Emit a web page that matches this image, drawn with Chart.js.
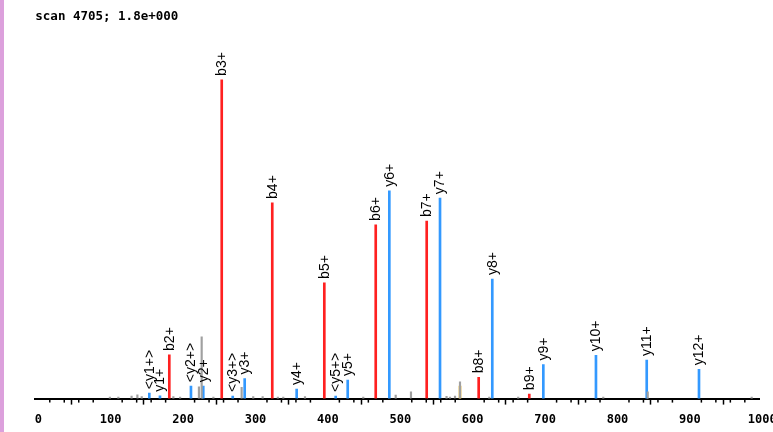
<!DOCTYPE html>
<html><head><meta charset="utf-8">
<script src="https://cdn.jsdelivr.net/npm/chart.js@4/dist/chart.umd.min.js"></script>
<style>
html,body{margin:0;padding:0;background:#fff;overflow:hidden;width:773px;height:432px;}
#wrap{position:relative;width:773px;height:432px;overflow:hidden;background:#fff;}
#strip{position:absolute;left:0;top:0;width:4px;height:432px;background:#dca0dc;}
canvas{position:absolute;left:0;top:0;}
</style></head><body>
<div id="wrap"><canvas id="c" width="790" height="432"></canvas><div id="strip"></div></div>
<script>
const titleText = 'scan 4705; 1.8e+000';

const bIonLabels = ['b2+', 'b3+', 'b4+', 'b5+', 'b6+', 'b7+', 'b8+', 'b9+'];
const bIonMz = [185.1, 257.5, 327.3, 399.2, 470.2, 540.6, 612.4, 682.3];
const bIonIntensity = [13.7, 100, 61.4, 36.3, 54.5, 55.7, 6.7, 1.4];

const yIonLabels = ['<y1+>', 'y1+', '<y2+>', 'y2+', '<y3+>', 'y3+', 'y4+', '<y5+>', 'y5+', 'y6+', 'y7+', 'y8+', 'y9+', 'y10+', 'y11+', 'y12+'];
const yIonMz = [157.5, 172.2, 215.0, 232.0, 272.7, 289.2, 361.0, 414.9, 431.5, 489.0, 559.0, 631.2, 701.7, 774.4, 844.5, 916.7];
const yIonIntensity = [1.7, 0.9, 3.9, 3.9, 0.8, 6.3, 3.0, 0.8, 5.8, 65.2, 62.9, 37.5, 10.7, 13.6, 12.1, 9.2];

const otherMz = [103, 114.7, 133, 141, 147, 190.7, 200, 226, 229.8, 246, 285, 301, 314, 335, 342.5, 372.5, 453, 497.8, 518.9, 568, 572.8, 579.7, 586.6, 627, 667, 784.5, 845.9, 989.5];
const otherIntensity = [0.5, 0.5, 0.8, 1.2, 0.6, 0.6, 0.5, 3.7, 19.4, 0.5, 3.5, 0.6, 0.6, 0.5, 0.5, 0.6, 0.5, 1.1, 2.1, 0.7, 0.5, 0.8, 5.3, 0.5, 0.5, 0.5, 2.1, 0.5];

const neutralLossMz = [586.6];
const neutralLossIntensity = [3.9];

const xTickStep = 100;
const xMinorStep = 20;

function pts(xs, ys) { return xs.map((x, i) => ({ x: x, y: ys[i] })); }

const minorTicks = {
  id: 'minorTicks',
  afterDraw(chart) {
    const s = chart.scales.x;
    const c = chart.ctx;
    c.save();
    c.strokeStyle = '#000';
    c.lineWidth = 1.5;
    for (let v = s.min; v <= s.max; v += xMinorStep) {
      if (v % xTickStep === 0) continue;
      const px = s.getPixelForValue(v);
      c.beginPath();
      c.moveTo(px, s.top);
      c.lineTo(px, s.top + 4);
      c.stroke();
    }
    c.restore();
  }
};

const ionLabels = {
  id: 'ionLabels',
  afterDatasetsDraw(chart) {
    const c = chart.ctx;
    c.save();
    c.fillStyle = '#000';
    c.font = '14px "Liberation Sans"';
    c.textAlign = 'left';
    c.textBaseline = 'middle';
    chart.data.datasets.forEach((ds, di) => {
      if (!ds.ionLabels) return;
      const meta = chart.getDatasetMeta(di);
      meta.data.forEach((el, i) => {
        c.save();
        c.translate(el.x + 0.5, el.y - 4);
        c.rotate(-Math.PI / 2);
        c.fillText(ds.ionLabels[i], 0, 0);
        c.restore();
      });
    });
    c.restore();
  }
};

new Chart(document.getElementById('c'), {
  type: 'bar',
  data: {
    datasets: [
      { data: pts(otherMz, otherIntensity), backgroundColor: '#a0a0a0', barThickness: 1.5 },
      { data: pts(neutralLossMz, neutralLossIntensity), backgroundColor: '#e0a812', barThickness: 2 },
      { data: pts(bIonMz, bIonIntensity), backgroundColor: '#ff2020', barThickness: 2, ionLabels: bIonLabels },
      { data: pts(yIonMz, yIonIntensity), backgroundColor: '#3399ff', barThickness: 2, ionLabels: yIonLabels }
    ]
  },
  options: {
    responsive: false,
    animation: false,
    layout: { padding: { left: 35.3, right: 30.7, top: 0, bottom: -3 } },
    datasets: { bar: { grouped: false, borderWidth: 0 } },
    plugins: {
      legend: { display: false },
      tooltip: { enabled: false },
      title: {
        display: true, text: titleText, align: 'start', color: '#000',
        font: { family: 'DejaVu Sans Mono', weight: 'bold', size: 12.5 },
        padding: { top: 9, bottom: 10 }
      }
    },
    scales: {
      x: {
        type: 'linear', min: 0, max: 1000, offset: false,
        ticks: {
          stepSize: xTickStep, color: '#000', padding: 8, maxRotation: 0, autoSkip: false, labelOffset: 3,
          font: { family: 'DejaVu Sans Mono', weight: 'bold', size: 12 },
          callback: v => String(v)
        },
        grid: { drawOnChartArea: false, drawTicks: true, tickLength: 6, tickColor: '#000', tickWidth: 1.5 },
        border: { display: true, color: '#000', width: 2 }
      },
      y: { display: false, min: 0, max: 114.4 }
    }
  },
  plugins: [minorTicks, ionLabels]
});
</script>
</body></html>
